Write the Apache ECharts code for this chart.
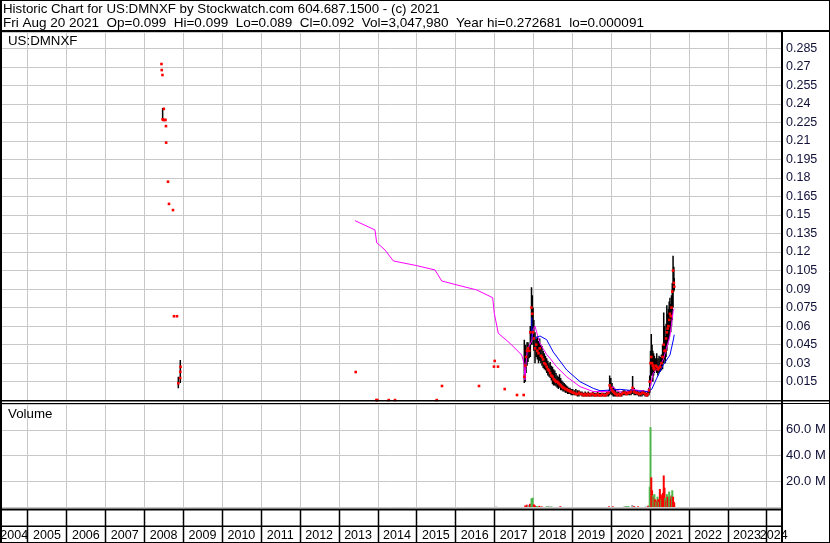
<!DOCTYPE html>
<html><head><meta charset="utf-8">
<script src="https://cdn.jsdelivr.net/npm/echarts@6/dist/echarts.min.js"></script>
<style>html,body{margin:0;padding:0;background:#fff}#c{width:830px;height:543px}</style>
</head><body><div id="c"></div>
<script>
// ---------- text ----------
const titleLine = 'Historic Chart for US:DMNXF by Stockwatch.com 604.687.1500 - (c) 2021';
const quoteLine = 'Fri Aug 20 2021  Op=0.099  Hi=0.099  Lo=0.089  Cl=0.092  Vol=3,047,980  Year hi=0.272681  lo=0.000091';
const symbolLabel = 'US:DMNXF';
const volumeLabel = 'Volume';
const years = [2004,2005,2006,2007,2008,2009,2010,2011,2012,2013,2014,2015,2016,2017,2018,2019,2020,2021,2022,2023,2024];
const priceTickStep = 0.015;
const volumeTickStep = 20; // millions

// ---------- price bars: [decimal year, low, high, close] ----------
const priceBars = [
 [2008.475,0.227,0.2367,0.2275],[2008.878,0.0096,0.019,0.0137],[2008.929,0.014,0.0326,0.023],
 [2017.775,0.014,0.049,0.019],[2017.80,0.015,0.045,0.028],[2017.82,0.022,0.040,0.035],[2017.845,0.028,0.047,0.040],
 [2017.87,0.031,0.047,0.042],[2017.90,0.034,0.045,0.040],[2017.93,0.035,0.060,0.055],[2017.96,0.045,0.0914,0.075],
 [2017.98,0.050,0.085,0.070],[2018.00,0.045,0.075,0.055],[2018.02,0.040,0.065,0.050],[2018.05,0.030,0.055,0.042],
 [2018.08,0.035,0.050,0.045],[2018.11,0.033,0.052,0.040],[2018.14,0.030,0.048,0.038],[2018.17,0.032,0.050,0.042],
 [2018.20,0.030,0.045,0.036],[2018.23,0.028,0.044,0.035],[2018.26,0.026,0.040,0.033],[2018.29,0.025,0.038,0.030],
 [2018.32,0.024,0.036,0.029],[2018.35,0.022,0.034,0.027],[2018.38,0.020,0.032,0.025],[2018.41,0.019,0.030,0.024],
 [2018.44,0.018,0.031,0.022],[2018.47,0.016,0.028,0.020],[2018.50,0.013,0.027,0.019],[2018.53,0.012,0.025,0.017],
 [2018.56,0.012,0.024,0.016],[2018.59,0.011,0.022,0.015],[2018.62,0.010,0.020,0.015],[2018.65,0.009,0.019,0.014],
 [2018.68,0.010,0.021,0.013],[2018.71,0.008,0.018,0.012],[2018.74,0.008,0.016,0.011],[2018.77,0.007,0.015,0.010],
 [2018.80,0.007,0.014,0.010],[2018.83,0.006,0.013,0.009],[2018.86,0.006,0.012,0.009],[2018.89,0.005,0.011,0.008],
 [2018.92,0.005,0.010,0.008],[2018.95,0.005,0.010,0.007],[2018.98,0.004,0.009,0.007],[2019.02,0.004,0.009,0.006],
 [2019.06,0.004,0.008,0.006],[2019.10,0.004,0.009,0.005],[2019.14,0.003,0.008,0.005],[2019.18,0.003,0.008,0.006],
 [2019.22,0.004,0.007,0.005],[2019.26,0.003,0.007,0.005],[2019.30,0.003,0.006,0.004],[2019.34,0.003,0.007,0.005],
 [2019.38,0.003,0.006,0.004],[2019.42,0.003,0.007,0.005],[2019.46,0.003,0.006,0.004],[2019.50,0.003,0.006,0.005],
 [2019.54,0.003,0.007,0.005],[2019.58,0.003,0.006,0.004],[2019.62,0.003,0.006,0.004],[2019.66,0.003,0.007,0.005],
 [2019.70,0.003,0.006,0.004],[2019.74,0.003,0.006,0.004],[2019.78,0.003,0.006,0.005],[2019.82,0.003,0.006,0.004],
 [2019.86,0.003,0.006,0.004],[2019.90,0.003,0.007,0.005],[2019.94,0.003,0.008,0.006],[2019.97,0.004,0.020,0.012],
 [2020.00,0.005,0.018,0.010],[2020.03,0.004,0.014,0.008],[2020.06,0.003,0.011,0.007],[2020.09,0.003,0.010,0.006],
 [2020.12,0.003,0.009,0.005],[2020.16,0.003,0.007,0.004],[2020.20,0.003,0.007,0.005],[2020.24,0.003,0.006,0.004],
 [2020.28,0.003,0.007,0.005],[2020.32,0.004,0.008,0.006],[2020.36,0.004,0.008,0.006],[2020.40,0.004,0.007,0.005],
 [2020.44,0.004,0.008,0.006],[2020.48,0.004,0.008,0.006],[2020.52,0.004,0.009,0.007],[2020.56,0.005,0.0196,0.010],
 [2020.60,0.004,0.010,0.007],[2020.64,0.004,0.008,0.006],[2020.68,0.004,0.008,0.006],[2020.72,0.003,0.007,0.005],
 [2020.76,0.003,0.007,0.005],[2020.80,0.003,0.008,0.006],[2020.84,0.004,0.008,0.006],[2020.88,0.003,0.007,0.005],
 [2020.92,0.003,0.006,0.004],[2020.95,0.003,0.007,0.005],[2020.98,0.004,0.010,0.008],[2021.00,0.006,0.020,0.015],
 [2021.02,0.012,0.040,0.030],[2021.04,0.020,0.0536,0.035],[2021.06,0.020,0.045,0.030],[2021.08,0.015,0.040,0.028],
 [2021.10,0.020,0.038,0.026],[2021.12,0.022,0.036,0.025],[2021.15,0.024,0.034,0.028],[2021.18,0.022,0.038,0.027],
 [2021.21,0.020,0.034,0.025],[2021.24,0.022,0.036,0.026],[2021.27,0.023,0.035,0.027],[2021.30,0.024,0.037,0.030],
 [2021.33,0.025,0.045,0.035],[2021.36,0.030,0.071,0.045],[2021.38,0.033,0.060,0.040],[2021.40,0.030,0.052,0.040],
 [2021.42,0.035,0.062,0.050],[2021.44,0.040,0.077,0.055],[2021.46,0.045,0.070,0.058],[2021.48,0.048,0.074,0.060],
 [2021.50,0.050,0.080,0.065],[2021.52,0.057,0.083,0.070],[2021.54,0.055,0.078,0.068],[2021.56,0.060,0.085,0.075],
 [2021.58,0.065,0.095,0.088],[2021.60,0.075,0.117,0.105],[2021.62,0.088,0.108,0.095],[2021.63,0.089,0.099,0.092]
];

// ---------- isolated trades (single prints): [decimal year, price] ----------
const singleTrades = [
 [2008.445,0.2723],[2008.452,0.2674],[2008.47,0.2634],[2008.505,0.236],[2008.49,0.227],[2008.52,0.227],[2008.55,0.227],
 [2008.56,0.222],[2008.565,0.2086],[2008.613,0.177],[2008.638,0.159],[2008.741,0.154],[2008.767,0.068],[2008.844,0.068],
 [2008.935,0.027],[2008.925,0.018],
 [2013.439,0.0228],[2013.969,0.0001],[2013.995,0.0001],[2014.288,0.0001],[2014.45,0.0001],[2015.522,0.0001],
 [2015.658,0.0115],[2016.61,0.0115],[2016.995,0.0272],[2017.013,0.0318],[2017.098,0.0272],[2017.271,0.009],
 [2017.587,0.0042],[2017.759,0.0042]
];

// ---------- moving averages: [decimal year, value] ----------
const maFast = [
 [2013.421,0.1454],[2013.935,0.1379],[2013.979,0.1276],[2014.192,0.1217],[2014.406,0.1128],[2014.578,0.1117],
 [2015.008,0.109],[2015.478,0.1055],[2015.651,0.0966],[2015.949,0.0941],[2016.551,0.0893],[2016.962,0.083],
 [2017.003,0.0704],[2017.106,0.0542],[2017.407,0.0461],[2017.708,0.0366],[2017.767,0.0299],[2017.793,0.0164],
 [2017.82,0.030],[2017.85,0.040],[2017.90,0.044],[2017.965,0.048],[2018.006,0.058],[2018.05,0.060],[2018.093,0.055],
 [2018.178,0.046],[2018.35,0.037],[2018.435,0.034],[2018.607,0.027],[2018.864,0.019],[2019.207,0.011],[2019.549,0.007],
 [2019.978,0.007],[2020.05,0.011],[2020.15,0.008],[2020.32,0.006],[2020.577,0.0087],[2020.70,0.008],[2020.963,0.007],
 [2021.02,0.012],[2021.09,0.022],[2021.18,0.025],[2021.264,0.028],[2021.35,0.033],[2021.436,0.043],[2021.52,0.052],
 [2021.606,0.073],[2021.63,0.074]
];
const maSlow = [
 [2017.965,0.067],[2017.975,0.050],[2018.05,0.050],[2018.178,0.052],[2018.35,0.049],[2018.52,0.039],[2018.864,0.0245],
 [2019.207,0.015],[2019.549,0.0096],[2019.721,0.0077],[2019.978,0.0082],[2020.235,0.0088],[2020.577,0.0077],
 [2020.963,0.0069],[2021.05,0.0088],[2021.18,0.0178],[2021.35,0.0286],[2021.52,0.0366],[2021.606,0.0488],[2021.63,0.053]
];

// ---------- volume: [decimal year, millions of shares, direction] ----------
const volumes = [
 [2017.05,0.4,'flat'],[2017.80,1.2,'down'],[2017.84,1.8,'down'],[2017.88,1.5,'flat'],[2017.92,2.5,'down'],
 [2017.96,6.8,'up'],[2017.99,7.2,'up'],[2018.02,2.0,'down'],[2018.05,1.2,'down'],[2018.10,0.8,'up'],[2018.16,0.9,'down'],
 [2018.22,0.5,'down'],[2018.35,0.6,'up'],[2018.40,0.9,'flat'],[2018.47,0.5,'up'],[2018.70,0.6,'down'],
 [2019.95,0.5,'down'],[2020.05,0.5,'down'],[2020.35,0.6,'flat'],[2020.40,0.8,'up'],[2020.45,0.7,'up'],[2020.55,1.6,'flat'],
 [2020.60,0.7,'down'],[2020.70,0.5,'down'],[2020.90,0.4,'flat'],[2020.96,1.0,'down'],
 [2021.00,15.7,'up'],[2021.02,62,'up'],[2021.04,23,'down'],[2021.06,13,'down'],[2021.08,9,'up'],[2021.10,8,'down'],
 [2021.12,10,'up'],[2021.14,6,'down'],[2021.16,4,'up'],[2021.18,5,'down'],[2021.20,8,'up'],[2021.22,6,'down'],
 [2021.24,4,'up'],[2021.26,14,'down'],[2021.28,10,'down'],[2021.30,6,'up'],[2021.32,9,'down'],[2021.34,11,'down'],
 [2021.36,24.5,'down'],[2021.38,15,'down'],[2021.40,7,'up'],[2021.42,5,'down'],[2021.44,10,'up'],[2021.46,8,'down'],
 [2021.48,7,'down'],[2021.50,12,'up'],[2021.52,8,'up'],[2021.54,6,'down'],[2021.56,9,'down'],[2021.58,13,'up'],
 [2021.60,8,'down'],[2021.62,4,'down'],[2021.63,3,'down']
];

// ---------- layout / style ----------
const FONT = "Arial, 'Liberation Sans', sans-serif";
const X_MIN = 2004.2929, X_MAX = 2024.3754;
const GRID_COLOR = '#c8c8c8';
const dirColor = {up:'#4cb84c', down:'#ff0000', flat:'#a0a0a0'};

const chart = echarts.init(document.getElementById('c'), null, {renderer:'canvas'});

function xAxisFor(i){
  return {type:'value', gridIndex:i, min:X_MIN, max:X_MAX,
    axisLine:{show:false}, axisTick:{show:false}, axisLabel:{show:false}, splitLine:{show:false}};
}
function hiddenY(i){
  return {type:'value', gridIndex:i, min:0, max:1, show:false, splitLine:{show:false}};
}
// vertical year-boundary lines, placed through the x scale of each grid
function yearLines(i, color, width){
  return {type:'custom', xAxisIndex:i, yAxisIndex:i, z:1, clip:true, silent:true,
    data: years.filter(y => y > X_MIN && y < X_MAX).map(y => [y, 0]),
    encode:{x:0, y:1},
    renderItem:function(params, api){
      const cs = params.coordSys;
      const x = Math.round(api.coord([api.value(0), 0])[0]) + 0.5;
      return {type:'line', shape:{x1:x, y1:cs.y, x2:x, y2:cs.y + cs.height}, style:{stroke:color, lineWidth:width}};
    }};
}

chart.setOption({
  animation:false,
  backgroundColor:'#fff',
  grid:[
    {left:0, right:49, top:32, height:368.2},
    {left:0, right:49, top:404, height:103},
    {left:0, right:49, top:510, height:16},
    {left:0, right:49, top:527, height:16}
  ],
  xAxis:[xAxisFor(0), xAxisFor(1), xAxisFor(2), xAxisFor(3)],
  yAxis:[
    {type:'value', gridIndex:0, position:'right', min:0, max:0.29823, interval:priceTickStep,
     axisLine:{show:false}, axisTick:{show:false},
     axisLabel:{margin:5, showMinLabel:false, showMaxLabel:false, color:'#101038', fontSize:12.5, fontFamily:FONT,
       formatter:v => String(+v.toFixed(3))},
     splitLine:{show:true, lineStyle:{color:GRID_COLOR, width:1}}},
    {type:'value', gridIndex:1, position:'right', min:0, max:80, interval:volumeTickStep,
     axisLine:{show:false}, axisTick:{show:false},
     axisLabel:{margin:5, showMinLabel:false, showMaxLabel:false, color:'#101038', fontSize:13, fontFamily:FONT,
       formatter:v => v.toFixed(1) + ' M'},
     splitLine:{show:true, lineStyle:{color:GRID_COLOR, width:1}}},
    hiddenY(2), hiddenY(3)
  ],
  series:[
    yearLines(0, GRID_COLOR, 1), yearLines(1, GRID_COLOR, 1), yearLines(2, '#000', 1.5), yearLines(3, '#000', 1.5),
    {type:'custom', name:'range', xAxisIndex:0, yAxisIndex:0, z:2, clip:true,
     data: priceBars.map(r => [r[0], r[1], r[2]]),
     encode:{x:0, y:[1,2]},
     renderItem:function(params, api){
       const a = api.coord([api.value(0), api.value(1)]);
       const b = api.coord([api.value(0), api.value(2)]);
       return {type:'line', shape:{x1:a[0], y1:a[1], x2:b[0], y2:b[1]}, style:{stroke:'#000', lineWidth:1.5}};
     }},
    {type:'line', name:'maFast', xAxisIndex:0, yAxisIndex:0, z:3, data:maFast, showSymbol:false, symbol:'none',
     lineStyle:{color:'#ff00ff', width:1}},
    {type:'line', name:'maSlow', xAxisIndex:0, yAxisIndex:0, z:3, data:maSlow, showSymbol:false, symbol:'none',
     lineStyle:{color:'#0000ff', width:1}},
    {type:'scatter', name:'close', xAxisIndex:0, yAxisIndex:0, z:4, symbol:'rect', symbolSize:2.6,
     data: priceBars.map(r => [r[0], r[3]]).concat(singleTrades),
     itemStyle:{color:'#ff0000', opacity:1}},
    {type:'bar', name:'volume', xAxisIndex:1, yAxisIndex:1, barWidth:2,
     data: volumes.map(r => [r[0], r[1]]),
     itemStyle:{color: p => dirColor[volumes[p.dataIndex][2]]}}
  ]
});

// ---------- graphics: frame, texts, year labels ----------
const g = [];
function hl(x1,x2,y,w){ g.push({type:'line', z:100, shape:{x1:x1,y1:y,x2:x2,y2:y}, style:{stroke:'#000', lineWidth:w}}); }
function vl(x,y1,y2,w){ g.push({type:'line', z:100, shape:{x1:x,y1:y1,x2:x,y2:y2}, style:{stroke:'#000', lineWidth:w}}); }
function txt(s,x,y,size,align){ g.push({type:'text', z:101, x:x, y:y, style:{text:s, fill:'#000', fontSize:size, fontFamily:FONT, align:align||'left', verticalAlign:'middle'}}); }

// frame
hl(0,830,0.5,1); hl(0,830,542.5,1); vl(1,0,543,2); vl(829.5,0,543,1);
hl(0,830,31,2);
vl(782,31,543,2);
hl(0,830,400.7,1.5); hl(0,830,403.5,1);
hl(0,782,509.5,2);
hl(0,782,526.3,1.5);

txt(titleLine, 3, 9, 13.3);
txt(quoteLine, 3, 23.5, 13.5);
txt(symbolLabel, 8, 41.5, 13.3);
txt(volumeLabel, 8, 414, 13.3);

const visL = 1, visR = 781;
years.forEach(y => {
  const l = Math.max(chart.convertToPixel({xAxisIndex:3}, y), visL);
  const r = Math.min(chart.convertToPixel({xAxisIndex:3}, y + 1), visR);
  if (r > l) txt(String(y), (l + r) / 2, 535.5, 12.5, 'center');
});

chart.setOption({graphic: g});
</script></body></html>
